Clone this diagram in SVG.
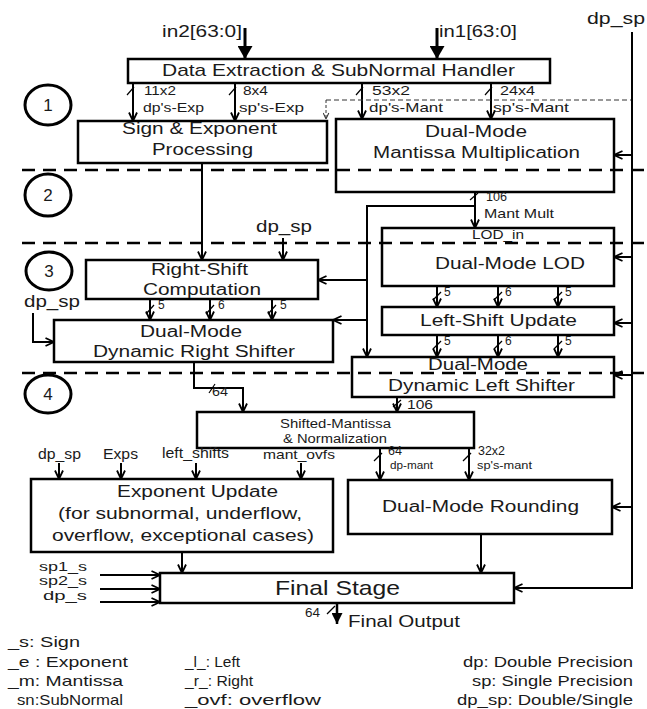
<svg xmlns="http://www.w3.org/2000/svg" width="647" height="709" viewBox="0 0 647 709">
<defs>
<marker id="a" viewBox="0 0 10 10" refX="9.5" refY="5" markerWidth="10" markerHeight="10" markerUnits="userSpaceOnUse" orient="auto"><path d="M1,1 L9.5,5 L1,9" fill="none" stroke="#000" stroke-width="1.8"/></marker>
<marker id="ad" viewBox="0 0 10 10" refX="9.5" refY="5" markerWidth="7" markerHeight="7" markerUnits="userSpaceOnUse" orient="auto"><path d="M1,1 L9.5,5 L1,9" fill="none" stroke="#333" stroke-width="1.5"/></marker>
<marker id="af" viewBox="0 0 13 15" refX="13" refY="7.5" markerWidth="13" markerHeight="15" markerUnits="userSpaceOnUse" orient="auto"><path d="M0,0 L13,7.5 L0,15 z" fill="#000"/></marker>
<marker id="af2" viewBox="0 0 11 11" refX="11" refY="5.5" markerWidth="11" markerHeight="11" markerUnits="userSpaceOnUse" orient="auto"><path d="M0,0 L11,5.5 L0,11 z" fill="#000"/></marker>
<style>
.box{fill:#fff;stroke:#000;stroke-width:2.5}
.t{font-family:"Liberation Sans",Arial,sans-serif;fill:#1a1a1a}
.c{fill:none;stroke:#000;stroke-width:2}
.s{fill:none;stroke:#000;stroke-width:1.2}
.st{fill:none;stroke:#000;stroke-width:2.5;stroke-dasharray:13 8}
.stage{fill:none;stroke:#000;stroke-width:3}
</style>
</defs>
<rect width="647" height="709" fill="#fff"/>

<g id="stage-markers">
<ellipse class="stage" cx="48" cy="105" rx="23" ry="20"/>
<text class="t" x="48" y="111" font-size="17" text-anchor="middle">1</text>
<ellipse class="stage" cx="48" cy="195" rx="23" ry="21"/>
<text class="t" x="48" y="201" font-size="17" text-anchor="middle">2</text>
<ellipse class="stage" cx="49" cy="271" rx="23" ry="19"/>
<text class="t" x="49" y="277" font-size="17" text-anchor="middle">3</text>
<ellipse class="stage" cx="48" cy="394" rx="23" ry="19"/>
<text class="t" x="48" y="400" font-size="17" text-anchor="middle">4</text>
</g>

<g id="data-extraction">
<rect class="box" x="128" y="59" width="422" height="24"/>
<text class="t" x="162" y="76" font-size="17" textLength="353" lengthAdjust="spacingAndGlyphs">Data Extraction &amp; SubNormal Handler</text>
</g>
<g id="sign-exponent">
<rect class="box" x="78" y="121" width="249" height="42"/>
<text class="t" x="122" y="134" font-size="16" textLength="155" lengthAdjust="spacingAndGlyphs">Sign &amp; Exponent</text>
<text class="t" x="152" y="155" font-size="16" textLength="101" lengthAdjust="spacingAndGlyphs">Processing</text>
</g>
<g id="mantissa-mult">
<rect class="box" x="336" y="119" width="278" height="73"/>
<text class="t" x="425" y="137" font-size="16" textLength="102" lengthAdjust="spacingAndGlyphs">Dual-Mode</text>
<text class="t" x="373" y="158" font-size="16" textLength="207" lengthAdjust="spacingAndGlyphs">Mantissa Multiplication</text>
</g>
<g id="right-shift-comp">
<rect class="box" x="86" y="260" width="232" height="39"/>
<text class="t" x="151" y="275" font-size="16" textLength="97" lengthAdjust="spacingAndGlyphs">Right-Shift</text>
<text class="t" x="143" y="295" font-size="16" textLength="118" lengthAdjust="spacingAndGlyphs">Computation</text>
</g>
<g id="right-shifter">
<rect class="box" x="54" y="320" width="279" height="42"/>
<text class="t" x="140" y="337" font-size="16" textLength="102" lengthAdjust="spacingAndGlyphs">Dual-Mode</text>
<text class="t" x="93" y="357" font-size="16" textLength="202" lengthAdjust="spacingAndGlyphs">Dynamic Right Shifter</text>
</g>
<g id="lod">
<rect class="box" x="382" y="228" width="232" height="58"/>
<text class="t" x="472" y="239" font-size="13" textLength="52" lengthAdjust="spacingAndGlyphs">LOD_in</text>
<text class="t" x="435" y="269" font-size="16" textLength="150" lengthAdjust="spacingAndGlyphs">Dual-Mode LOD</text>
</g>
<g id="left-shift-update">
<rect class="box" x="382" y="307" width="232" height="28"/>
<text class="t" x="420" y="326" font-size="16" textLength="157" lengthAdjust="spacingAndGlyphs">Left-Shift Update</text>
</g>
<g id="left-shifter">
<rect class="box" x="352" y="357" width="262" height="40"/>
<text class="t" x="428" y="370" font-size="16" textLength="100" lengthAdjust="spacingAndGlyphs">Dual-Mode</text>
<text class="t" x="388" y="391" font-size="16" textLength="187" lengthAdjust="spacingAndGlyphs">Dynamic Left Shifter</text>
</g>
<g id="shifted-mantissa">
<rect class="box" x="197" y="412" width="277" height="36"/>
<text class="t" x="280" y="428" font-size="12" textLength="111" lengthAdjust="spacingAndGlyphs">Shifted-Mantissa</text>
<text class="t" x="283" y="443" font-size="12" textLength="104" lengthAdjust="spacingAndGlyphs">&amp; Normalization</text>
</g>
<g id="exponent-update">
<rect class="box" x="31" y="479" width="302" height="73"/>
<text class="t" x="117" y="497" font-size="16" textLength="161" lengthAdjust="spacingAndGlyphs">Exponent Update</text>
<text class="t" x="58" y="519" font-size="16" textLength="244" lengthAdjust="spacingAndGlyphs">(for subnormal, underflow,</text>
<text class="t" x="52" y="541" font-size="16" textLength="262" lengthAdjust="spacingAndGlyphs">overflow, exceptional cases)</text>
</g>
<g id="rounding">
<rect class="box" x="348" y="480" width="264" height="54"/>
<text class="t" x="382" y="512" font-size="16" textLength="197" lengthAdjust="spacingAndGlyphs">Dual-Mode Rounding</text>
</g>
<g id="final-stage">
<rect class="box" x="160" y="573" width="354" height="30"/>
<text class="t" x="275" y="595" font-size="21" textLength="125" lengthAdjust="spacingAndGlyphs">Final Stage</text>
</g>

<g id="connectors">
<path d="M245,28 V59" stroke="#000" stroke-width="3" marker-end="url(#af)"/>
<path d="M437,28 V59" stroke="#000" stroke-width="3" marker-end="url(#af)"/>
<path class="c" d="M133,83 V121" marker-end="url(#a)"/>
<path class="s" d="M127,95 L134,87"/>
<path class="c" d="M235,83 V121" marker-end="url(#a)"/>
<path class="s" d="M229,95 L236,87"/>
<path class="c" d="M362,83 V119" marker-end="url(#a)"/>
<path class="s" d="M356,95 L363,87"/>
<path class="c" d="M491,83 V119" marker-end="url(#a)"/>
<path class="s" d="M485,95 L492,87"/>
<path d="M326,100 H632" fill="none" stroke="#333" stroke-width="1" stroke-dasharray="5 3"/>
<path d="M326,100 V119" fill="none" stroke="#333" stroke-width="1" stroke-dasharray="3 2" marker-end="url(#ad)"/>
<path class="c" d="M202,163 V260" marker-end="url(#a)"/>
<path class="c" d="M283,238 V260" marker-end="url(#a)"/>
<path class="c" d="M150,299 V320" marker-end="url(#a)"/>
<path class="s" d="M146,314 L154,305"/>
<path class="c" d="M210,299 V320" marker-end="url(#a)"/>
<path class="s" d="M206,314 L214,305"/>
<path class="c" d="M272,299 V320" marker-end="url(#a)"/>
<path class="s" d="M268,314 L276,305"/>
<path class="c" d="M33,313 V342 H54" marker-end="url(#a)"/>
<path class="c" d="M194,362 V388 H243 V412" marker-end="url(#a)"/>
<path class="s" d="M209,393 L215,384"/>
<path class="c" d="M475,192 V228" marker-end="url(#a)"/>
<path class="s" d="M470,200 L478,193"/>
<path class="c" d="M475,206 H367 V357" marker-end="url(#a)"/>
<path class="c" d="M367,280 H318" marker-end="url(#a)"/>
<path class="c" d="M367,320 H333" marker-end="url(#a)"/>
<path class="c" d="M437,286 V307" marker-end="url(#a)"/>
<path class="s" d="M433,300 L441,292"/>
<path class="c" d="M498,286 V307" marker-end="url(#a)"/>
<path class="s" d="M494,300 L502,292"/>
<path class="c" d="M558,286 V307" marker-end="url(#a)"/>
<path class="s" d="M554,300 L562,292"/>
<path class="c" d="M437,335 V357" marker-end="url(#a)"/>
<path class="s" d="M433,349 L441,341"/>
<path class="c" d="M498,335 V357" marker-end="url(#a)"/>
<path class="s" d="M494,349 L502,341"/>
<path class="c" d="M558,335 V357" marker-end="url(#a)"/>
<path class="s" d="M554,349 L562,341"/>
<path class="c" d="M397,397 V412" marker-end="url(#a)"/>
<path class="s" d="M393,407 L401,400"/>
<path class="c" d="M380,448 V480" marker-end="url(#a)"/>
<path class="s" d="M374,461 L382,453"/>
<path class="c" d="M469,448 V480" marker-end="url(#a)"/>
<path class="s" d="M463,461 L471,453"/>
<path class="c" d="M59,463 V479" marker-end="url(#a)"/>
<path class="c" d="M121,463 V479" marker-end="url(#a)"/>
<path class="c" d="M196,463 V479" marker-end="url(#a)"/>
<path class="c" d="M301,463 V479" marker-end="url(#a)"/>
<path class="c" d="M182,552 V573" marker-end="url(#a)"/>
<path class="c" d="M481,534 V573" marker-end="url(#a)"/>
<path class="c" d="M100,575 H160" marker-end="url(#a)"/>
<path class="c" d="M100,589 H160" marker-end="url(#a)"/>
<path class="c" d="M100,602 H160" marker-end="url(#a)"/>
<path d="M337,603 V624" stroke="#000" stroke-width="2.5" marker-end="url(#af2)"/>
<path class="s" d="M327,614 L335,606"/>
<path class="c" d="M632,32 V588 H514" marker-end="url(#a)"/>
<path class="c" d="M632,155 H614" marker-end="url(#a)"/>
<path class="c" d="M632,257 H614" marker-end="url(#a)"/>
<path class="c" d="M632,323 H614" marker-end="url(#a)"/>
<path class="c" d="M632,375 H614" marker-end="url(#a)"/>
<path class="c" d="M632,507 H612" marker-end="url(#a)"/>
</g>

<g id="stage-lines">
<path class="st" d="M22,170 H647"/>
<path class="st" d="M22,243 H647"/>
<path class="st" d="M22,373 H647"/>
</g>

<g id="labels">
<text class="t" x="162" y="37" font-size="17" textLength="80" lengthAdjust="spacingAndGlyphs">in2[63:0]</text>
<text class="t" x="439" y="37" font-size="17" textLength="78" lengthAdjust="spacingAndGlyphs">in1[63:0]</text>
<text class="t" x="587" y="24" font-size="17" textLength="58" lengthAdjust="spacingAndGlyphs">dp_sp</text>
<text class="t" x="144" y="95" font-size="12" textLength="32" lengthAdjust="spacingAndGlyphs">11x2</text>
<text class="t" x="143" y="112" font-size="13" textLength="61" lengthAdjust="spacingAndGlyphs">dp's-Exp</text>
<text class="t" x="243" y="95" font-size="12" textLength="25" lengthAdjust="spacingAndGlyphs">8x4</text>
<text class="t" x="239" y="112" font-size="13" textLength="65" lengthAdjust="spacingAndGlyphs">sp's-Exp</text>
<text class="t" x="372" y="95" font-size="12" textLength="38" lengthAdjust="spacingAndGlyphs">53x2</text>
<text class="t" x="369" y="112" font-size="13" textLength="74" lengthAdjust="spacingAndGlyphs">dp's-Mant</text>
<text class="t" x="500" y="95" font-size="12" textLength="35" lengthAdjust="spacingAndGlyphs">24x4</text>
<text class="t" x="493" y="112" font-size="13" textLength="76" lengthAdjust="spacingAndGlyphs">sp's-Mant</text>
<text class="t" x="486" y="201" font-size="12" textLength="21" lengthAdjust="spacingAndGlyphs">106</text>
<text class="t" x="484" y="218" font-size="13" textLength="70" lengthAdjust="spacingAndGlyphs">Mant Mult</text>
<text class="t" x="256" y="232" font-size="16" textLength="56" lengthAdjust="spacingAndGlyphs">dp_sp</text>
<text class="t" x="24" y="307" font-size="16" textLength="56" lengthAdjust="spacingAndGlyphs">dp_sp</text>
<text class="t" x="158" y="309" font-size="12">5</text>
<text class="t" x="218" y="309" font-size="12">6</text>
<text class="t" x="280" y="309" font-size="12">5</text>
<text class="t" x="444" y="296" font-size="12">5</text>
<text class="t" x="505" y="296" font-size="12">6</text>
<text class="t" x="565" y="296" font-size="12">5</text>
<text class="t" x="444" y="345" font-size="12">5</text>
<text class="t" x="505" y="345" font-size="12">6</text>
<text class="t" x="565" y="345" font-size="12">5</text>
<text class="t" x="212" y="396" font-size="12" textLength="16" lengthAdjust="spacingAndGlyphs">64</text>
<text class="t" x="407" y="409" font-size="12" textLength="26" lengthAdjust="spacingAndGlyphs">106</text>
<text class="t" x="38" y="459" font-size="14" textLength="43" lengthAdjust="spacingAndGlyphs">dp_sp</text>
<text class="t" x="103" y="459" font-size="14" textLength="35" lengthAdjust="spacingAndGlyphs">Exps</text>
<text class="t" x="162" y="458" font-size="14" textLength="67" lengthAdjust="spacingAndGlyphs">left_shifts</text>
<text class="t" x="263" y="459" font-size="13" textLength="72" lengthAdjust="spacingAndGlyphs">mant_ovfs</text>
<text class="t" x="388" y="455" font-size="12" textLength="14" lengthAdjust="spacingAndGlyphs">64</text>
<text class="t" x="390" y="469" font-size="11" textLength="43" lengthAdjust="spacingAndGlyphs">dp-mant</text>
<text class="t" x="478" y="455" font-size="12" textLength="27" lengthAdjust="spacingAndGlyphs">32x2</text>
<text class="t" x="477" y="469" font-size="11" textLength="55" lengthAdjust="spacingAndGlyphs">sp's-mant</text>
<text class="t" x="39" y="571" font-size="13" textLength="48" lengthAdjust="spacingAndGlyphs">sp1_s</text>
<text class="t" x="39" y="585" font-size="13" textLength="48" lengthAdjust="spacingAndGlyphs">sp2_s</text>
<text class="t" x="43" y="600" font-size="13" textLength="44" lengthAdjust="spacingAndGlyphs">dp_s</text>
<text class="t" x="305" y="617" font-size="12" textLength="15" lengthAdjust="spacingAndGlyphs">64</text>
<text class="t" x="348" y="627" font-size="16" textLength="112" lengthAdjust="spacingAndGlyphs">Final Output</text>
</g>

<g id="legend">
<text class="t" x="8" y="647" font-size="15" textLength="72" lengthAdjust="spacingAndGlyphs">_s: Sign</text>
<text class="t" x="8" y="667" font-size="15" textLength="120" lengthAdjust="spacingAndGlyphs">_e : Exponent</text>
<text class="t" x="8" y="686" font-size="15" textLength="115" lengthAdjust="spacingAndGlyphs">_m: Mantissa</text>
<text class="t" x="17" y="705" font-size="15" textLength="106" lengthAdjust="spacingAndGlyphs">sn:SubNormal</text>
<text class="t" x="185" y="667" font-size="15" textLength="55" lengthAdjust="spacingAndGlyphs">_l_: Left</text>
<text class="t" x="185" y="686" font-size="15" textLength="68" lengthAdjust="spacingAndGlyphs">_r_: Right</text>
<text class="t" x="185" y="705" font-size="15" textLength="136" lengthAdjust="spacingAndGlyphs">_ovf: overflow</text>
<text class="t" x="463" y="667" font-size="15" textLength="170" lengthAdjust="spacingAndGlyphs">dp: Double Precision</text>
<text class="t" x="472" y="686" font-size="15" textLength="161" lengthAdjust="spacingAndGlyphs">sp: Single Precision</text>
<text class="t" x="457" y="705" font-size="15" textLength="176" lengthAdjust="spacingAndGlyphs">dp_sp: Double/Single</text>
</g>
</svg>
